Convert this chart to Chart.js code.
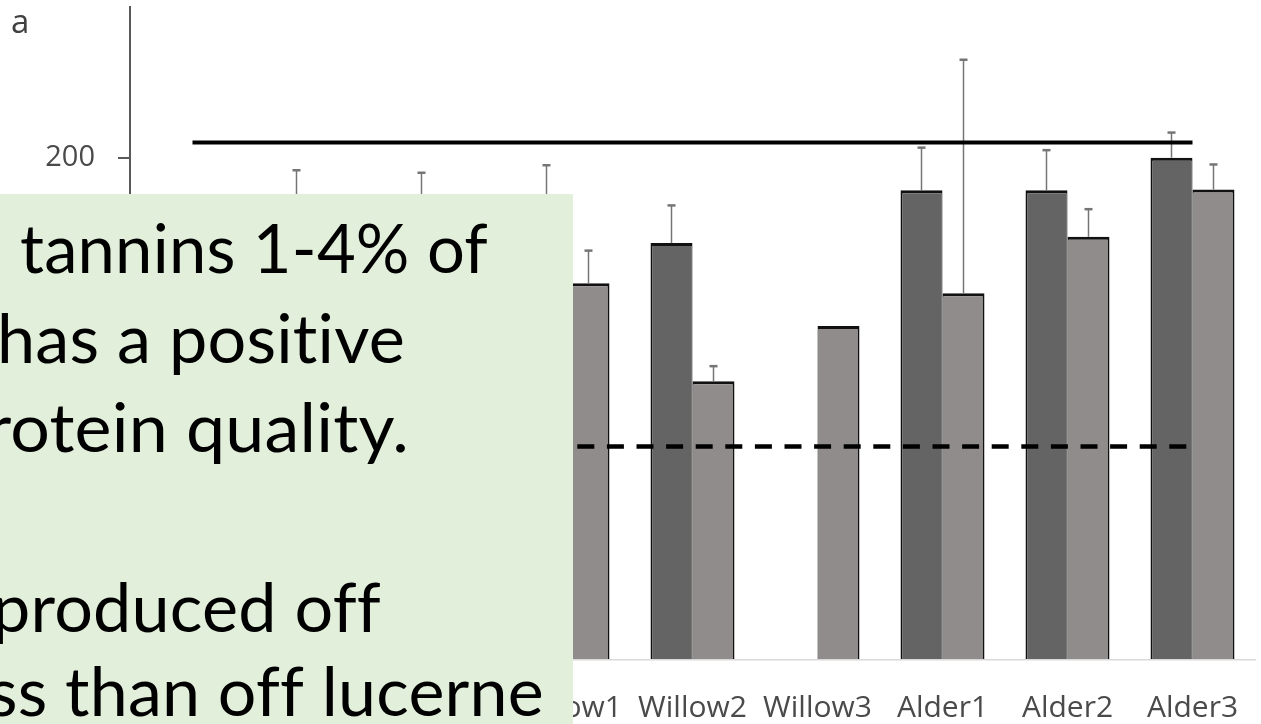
<!DOCTYPE html>
<html lang="en">
<head>
    <meta charset="UTF-8">
    <title>Tree fodder protein</title>
    <script src="https://cdn.jsdelivr.net/npm/chart.js"></script>
    <style>
        body { margin: 0; background: #fff; }
        canvas { display: block; }
    </style>
</head>
<body>
<canvas id="chart" width="1261" height="724"></canvas>

<script>
    // categories and values
    const categories = ['Poplar1', 'Poplar2', 'Poplar3', 'Willow1', 'Willow2', 'Willow3', 'Alder1', 'Alder2', 'Alder3'];
    const darkValues = [150, 178, 176, 180, 166, null, 187, 187, 200];
    const darkErrors = [12, 17, 18, 17, 15, null, 17, 16, 10];
    const lightValues = [140, 150, 155, 150, 111, 133, 146, 168.5, 187.3];
    const lightErrors = [10, 12, 14, 13, 6, null, 93, 11, 10];
    const upperRef = [206, 206, 206, 206, 206, 206, 206, 206, 206];
    const lowerRef = [85, 85, 85, 85, 85, 85, 85, 85, 85];
    const yTicks = [0, 100, 200];

    const panelLabel = 'a';
    const noteLines = ['tannins 1-4% of', 'has a positive', 'rotein quality.', 'produced off', 'ss than off lucerne'];

    // error bars (upper only) drawn on top of each bar dataset
    const errorBars = {
        id: 'errorBars',
        afterDatasetDraw(chart, args) {
            const ds = chart.data.datasets[args.index];
            if (!ds.errors) return;
            const ctx = chart.ctx;
            const y = chart.scales.y;
            ctx.save();
            ctx.strokeStyle = '#757575';
            args.meta.data.forEach((bar, i) => {
                const v = ds.data[i], e = ds.errors[i];
                if (v == null || !e) return;
                const top = y.getPixelForValue(v + e);
                ctx.lineWidth = 1.5;
                ctx.beginPath();
                ctx.moveTo(bar.x, bar.y);
                ctx.lineTo(bar.x, top);
                ctx.stroke();
                ctx.lineWidth = 2.5;
                ctx.beginPath();
                ctx.moveTo(bar.x - 4, top);
                ctx.lineTo(bar.x + 4, top);
                ctx.stroke();
            });
            ctx.restore();
        }
    };

    // panel letter and the green text box laid over the left part
    const overlay = {
        id: 'overlay',
        afterDraw(chart) {
            const ctx = chart.ctx;
            ctx.save();
            ctx.fillStyle = '#404040';
            ctx.font = '33px "Open Sans"';
            ctx.textBaseline = 'alphabetic';
            ctx.fillText(panelLabel, 11, 33);

            ctx.fillStyle = '#e2efda';
            ctx.fillRect(0, 194, 573, 530);

            const pos = [
                { x: 20, y: 273, w: 468 },
                { x: -3, y: 363, w: 408 },
                { x: -14, y: 452, w: 423 },
                { x: -8, y: 632, w: 389 },
                { x: -12, y: 716, w: 556 }
            ];
            ctx.fillStyle = '#000';
            ctx.font = '67px Lato';
            ctx.letterSpacing = '0.2px'; // keeps Lato from joining "ti" / "ff"
            noteLines.forEach((txt, i) => {
                const p = pos[i];
                const w = ctx.measureText(txt).width;
                ctx.save();
                ctx.translate(p.x, p.y);
                ctx.scale(p.w / w, 1);
                ctx.fillText(txt, 0, 0);
                ctx.restore();
            });
            ctx.restore();
        }
    };

    new Chart(document.getElementById('chart'), {
        type: 'bar',
        data: {
            labels: categories,
            datasets: [
                {
                    type: 'line', data: upperRef, order: 0,
                    borderColor: '#000', borderWidth: 4, pointRadius: 0, tension: 0,
                    borderCapStyle: 'butt', fill: false
                },
                {
                    type: 'line', data: lowerRef, order: 0,
                    borderColor: '#000', borderWidth: 4.5, borderDash: [17, 12.6], pointRadius: 0, tension: 0,
                    borderCapStyle: 'butt', fill: false
                },
                {
                    data: darkValues, errors: darkErrors, order: 1,
                    backgroundColor: '#646464', borderColor: '#111',
                    borderWidth: { top: 3, left: 2, right: 1, bottom: 0 }, borderSkipped: false
                },
                {
                    data: lightValues, errors: lightErrors, order: 1,
                    backgroundColor: '#918c8c', borderColor: '#111',
                    borderWidth: { top: 3, left: 1, right: 2, bottom: 0 }, borderSkipped: false
                }
            ]
        },
        options: {
            responsive: false,
            animation: false,
            layout: { padding: { top: 7, right: 6, left: 0, bottom: 0 } },
            datasets: { bar: { barPercentage: 1, categoryPercentage: 0.672 } },
            plugins: { legend: { display: false }, tooltip: { enabled: false } },
            scales: {
                x: {
                    grid: { display: false },
                    border: { display: true, color: '#d9d9d9', width: 1.5 },
                    ticks: {
                        color: '#4a4a4a', font: { family: 'Open Sans', size: 30 },
                        padding: 22, maxRotation: 0, autoSkip: false
                    },
                    afterFit(scale) {
                        scale.height = 64;
                        scale.paddingLeft = 0;
                        scale.paddingRight = 0;
                    }
                },
                y: {
                    min: 0, max: 260,
                    grid: { drawOnChartArea: false, drawTicks: true, tickLength: 12, color: '#595959', lineWidth: 2 },
                    border: { display: true, color: '#595959', width: 2 },
                    ticks: {
                        stepSize: 100, color: '#4a4a4a', padding: 23,
                        font: { family: 'Open Sans', size: 29 }
                    },
                    afterBuildTicks(scale) {
                        scale.ticks = yTicks.map(v => ({ value: v }));
                    },
                    afterFit(scale) {
                        scale.width = 130;
                        scale.paddingTop = 0;
                        scale.paddingBottom = 0;
                    }
                }
            }
        },
        plugins: [errorBars, overlay]
    });
</script>
</body>
</html>
